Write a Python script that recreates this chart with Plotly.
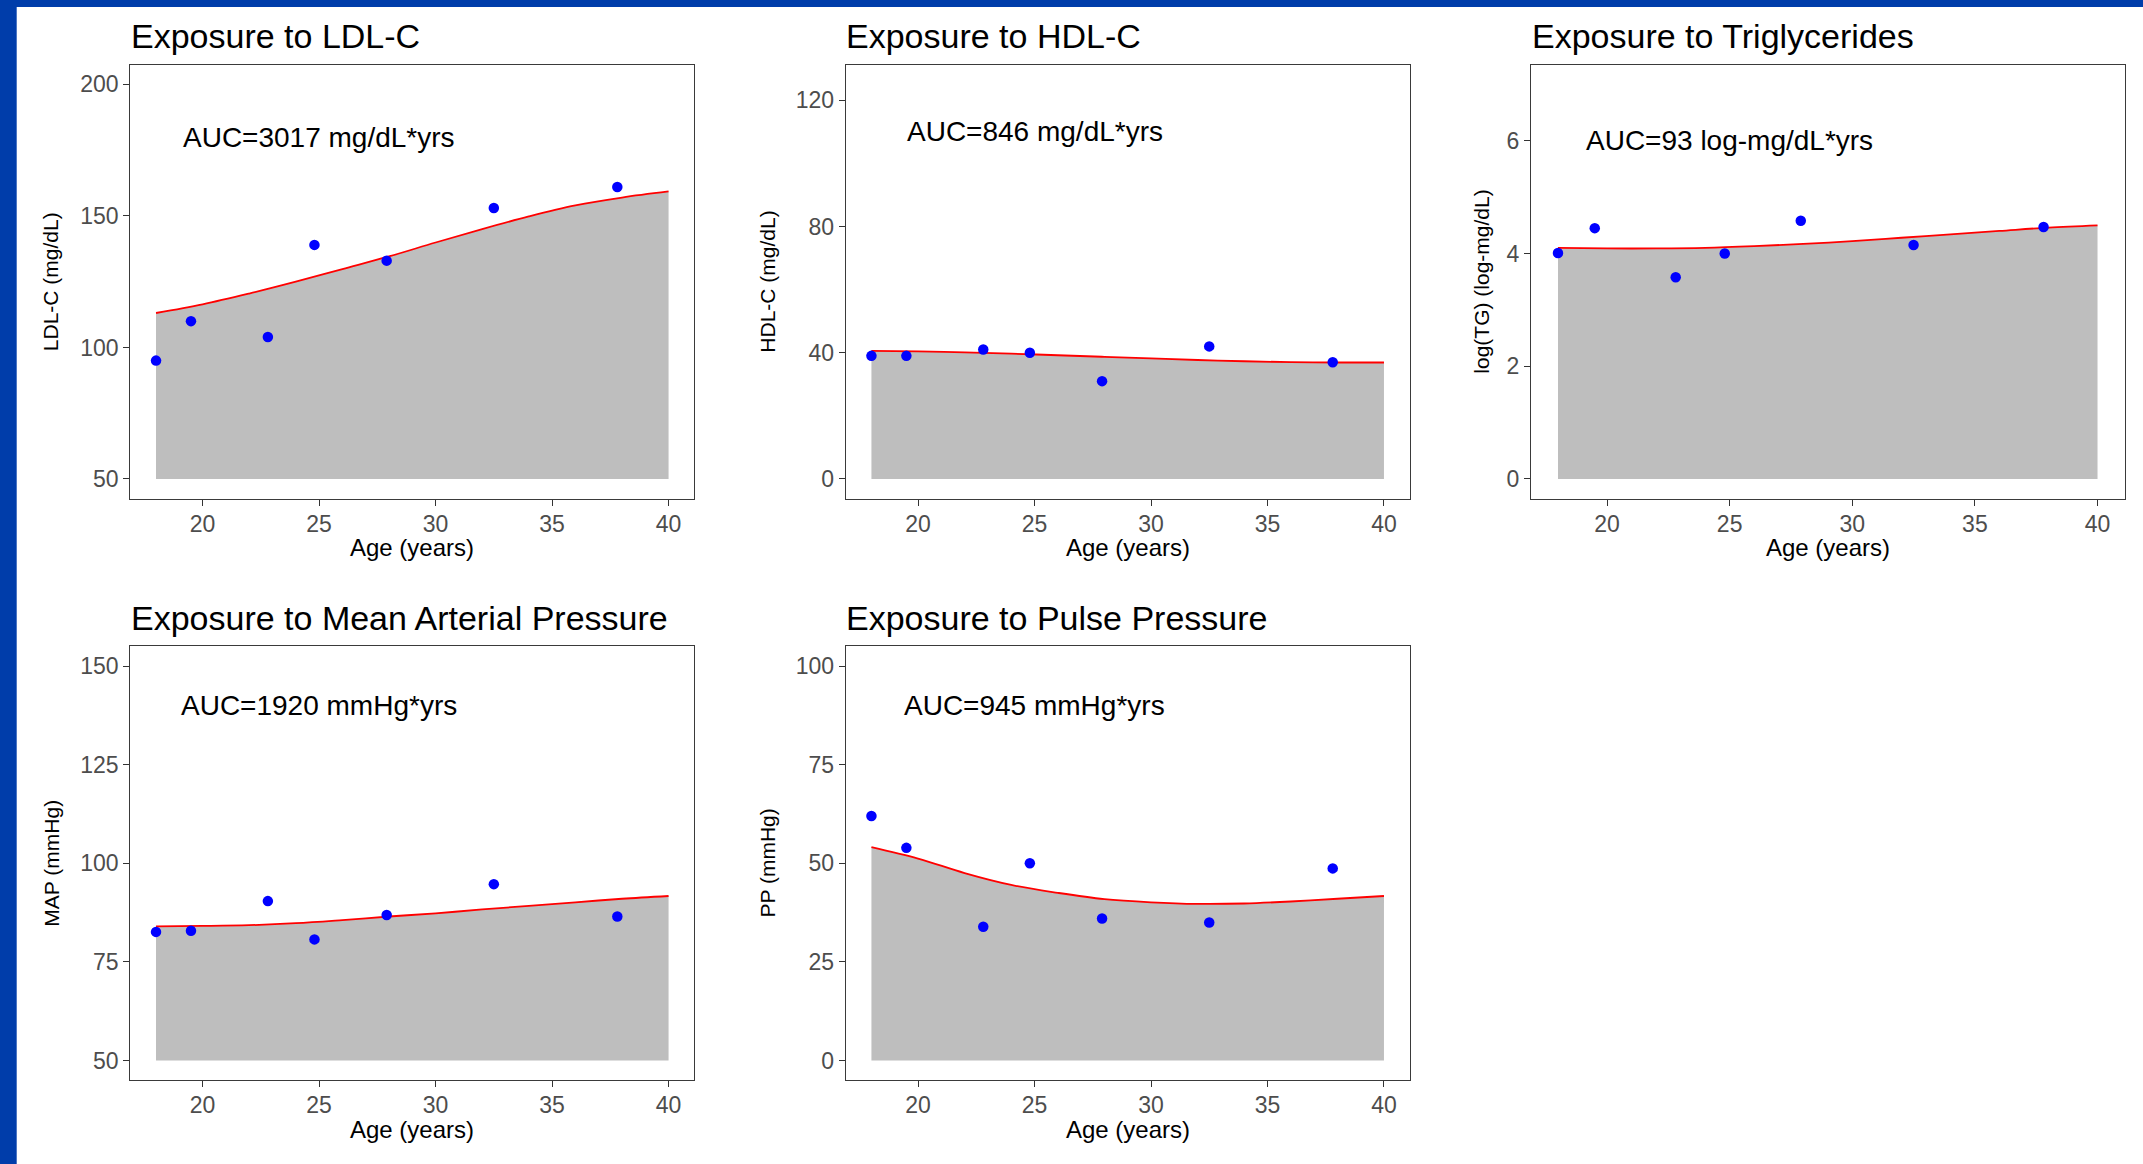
import plotly.graph_objects as go

W, H = 2143, 1164
FONT = "Liberation Sans, Arial, sans-serif"

# ---------------- data ----------------
exam_ages = [18, 19.5, 22.8, 24.8, 27.9, 32.5, 37.8]
curve_ages = [18, 20, 22, 24, 26, 28, 30, 32, 34, 36, 38, 40]

ldl_points = [95, 110, 104, 139, 133, 153, 161]
ldl_curve = [113.1, 116.4, 120.5, 125.0, 129.8, 134.6, 139.9, 145.0, 149.8, 154.0, 157.0, 159.3]

hdl_points = [39, 39, 41, 40, 31, 42, 37]
hdl_curve = [40.6, 40.4, 40.1, 39.7, 39.2, 38.7, 38.2, 37.7, 37.3, 37.0, 36.9, 36.9]

tg_points = [4.01, 4.45, 3.58, 4.00, 4.58, 4.15, 4.47]
tg_curve = [4.10, 4.09, 4.09, 4.10, 4.13, 4.17, 4.22, 4.28, 4.34, 4.40, 4.46, 4.50]

map_points = [82.6, 82.9, 90.4, 80.7, 86.9, 94.7, 86.5]
map_curve = [84.0, 84.1, 84.3, 84.8, 85.6, 86.5, 87.3, 88.3, 89.2, 90.1, 91.0, 91.7]

pp_points = [62.0, 53.9, 33.9, 50.0, 36.0, 35.0, 48.7]
pp_curve = [54.1, 51.2, 47.5, 44.5, 42.5, 40.9, 40.1, 39.7, 39.8, 40.3, 41.0, 41.7]

titles = ["Exposure to LDL-C", "Exposure to HDL-C", "Exposure to Triglycerides",
          "Exposure to Mean Arterial Pressure", "Exposure to Pulse Pressure"]
y_titles = ["LDL-C (mg/dL)", "HDL-C (mg/dL)", "log(TG) (log-mg/dL)", "MAP (mmHg)", "PP (mmHg)"]
auc_labels = ["AUC=3017 mg/dL*yrs", "AUC=846 mg/dL*yrs", "AUC=93 log-mg/dL*yrs",
              "AUC=1920 mmHg*yrs", "AUC=945 mmHg*yrs"]
auc_y = [180, 110, 6, 140, 90]
floors = [50, 0, 0, 50, 0]
y_ranges = [[42.5, 207.5], [-6.25, 131.25], [-0.35, 7.35], [45, 155], [-5, 105]]
y_ticks = [[50, 100, 150, 200], [0, 40, 80, 120], [0, 2, 4, 6],
           [50, 75, 100, 125, 150], [0, 25, 50, 75, 100]]
x_ticks = [20, 25, 30, 35, 40]
x_range = [16.9, 41.1]

points = [ldl_points, hdl_points, tg_points, map_points, pp_points]
curves = [ldl_curve, hdl_curve, tg_curve, map_curve, pp_curve]

# panel boxes in pixels: (left, right, top, bottom)
boxes = [
    (130.4, 694.2, 64.7, 498.7),
    (845.8, 1409.6, 64.7, 498.7),
    (1531.0, 2124.5, 64.7, 498.7),
    (130.4, 694.2, 646.3, 1080.2),
    (845.8, 1409.6, 646.3, 1080.2),
]
ytitle_x = [50.5, 768.0, 1482.0, 51.4, 767.3]

fig = go.Figure()
layout = dict(
    width=W, height=H, margin=dict(l=0, r=0, t=0, b=0),
    paper_bgcolor="white", plot_bgcolor="white", showlegend=False,
    font=dict(family=FONT, color="black"),
)
annotations = []
shapes = [
    dict(type="rect", xref="paper", yref="paper", x0=0, x1=16.7 / W, y0=0, y1=1,
         fillcolor="#003DAA", line=dict(width=0), layer="above"),
    dict(type="rect", xref="paper", yref="paper", x0=0, x1=1, y0=1 - 7 / H, y1=1,
         fillcolor="#003DAA", line=dict(width=0), layer="above"),
]

for i in range(5):
    n = "" if i == 0 else str(i + 1)
    xa, ya = "x" + n, "y" + n
    left, right, top, bottom = boxes[i]
    # baseline for the area fill
    fig.add_trace(go.Scatter(x=curve_ages, y=[floors[i]] * len(curve_ages), mode="lines",
                             line=dict(width=0, color="rgba(0,0,0,0)"),
                             xaxis=xa, yaxis=ya, hoverinfo="skip"))
    fig.add_trace(go.Scatter(x=curve_ages, y=curves[i], mode="lines", fill="tonexty",
                             fillcolor="#BEBEBE", line=dict(color="#FF0000", width=1.8, shape="spline"),
                             xaxis=xa, yaxis=ya))
    fig.add_trace(go.Scatter(x=exam_ages, y=points[i], mode="markers",
                             marker=dict(color="#0000FF", size=10.5),
                             xaxis=xa, yaxis=ya))
    axcommon = dict(showgrid=False, zeroline=False, showline=True, mirror=True,
                    linecolor="#3a3a3a", linewidth=1.4, ticks="outside", ticklen=6,
                    tickwidth=1.3, tickcolor="#333333",
                    tickfont=dict(family=FONT, size=23, color="#4D4D4D"))
    layout["xaxis" + n] = dict(axcommon, domain=[left / W, right / W], anchor=ya,
                               range=x_range, tickvals=x_ticks, ticklabelstandoff=-2)
    layout["yaxis" + n] = dict(axcommon, domain=[1 - bottom / H, 1 - top / H], anchor=xa,
                               range=y_ranges[i], tickvals=y_ticks[i])
    # panel title
    annotations.append(dict(text=titles[i], xref="paper", yref="paper",
                            x=(left - 1.5) / W, y=1 - (top - 28.5) / H,
                            xanchor="left", yanchor="middle", showarrow=False,
                            font=dict(family=FONT, size=34, color="black")))
    # x axis title
    annotations.append(dict(text="Age (years)", xref="paper", yref="paper",
                            x=(left + right) / 2 / W, y=1 - (bottom + 49) / H,
                            xanchor="center", yanchor="middle", showarrow=False,
                            font=dict(family=FONT, size=24, color="black")))
    # y axis title
    annotations.append(dict(text=y_titles[i], xref="paper", yref="paper",
                            x=ytitle_x[i] / W, y=1 - (top + bottom) / 2 / H,
                            xanchor="center", yanchor="middle", textangle=-90,
                            showarrow=False,
                            font=dict(family=FONT, size=21, color="black")))
    # AUC label
    annotations.append(dict(text=auc_labels[i], xref=xa, yref=ya, x=25, y=auc_y[i],
                            xanchor="center", yanchor="middle", showarrow=False,
                            font=dict(family=FONT, size=28, color="black")))

layout["annotations"] = annotations
layout["shapes"] = shapes
fig.update_layout(**layout)
fig.write_html("out.html", config={"displayModeBar": False},
               post_script="document.body.style.margin='0';document.body.style.overflow='hidden';")
